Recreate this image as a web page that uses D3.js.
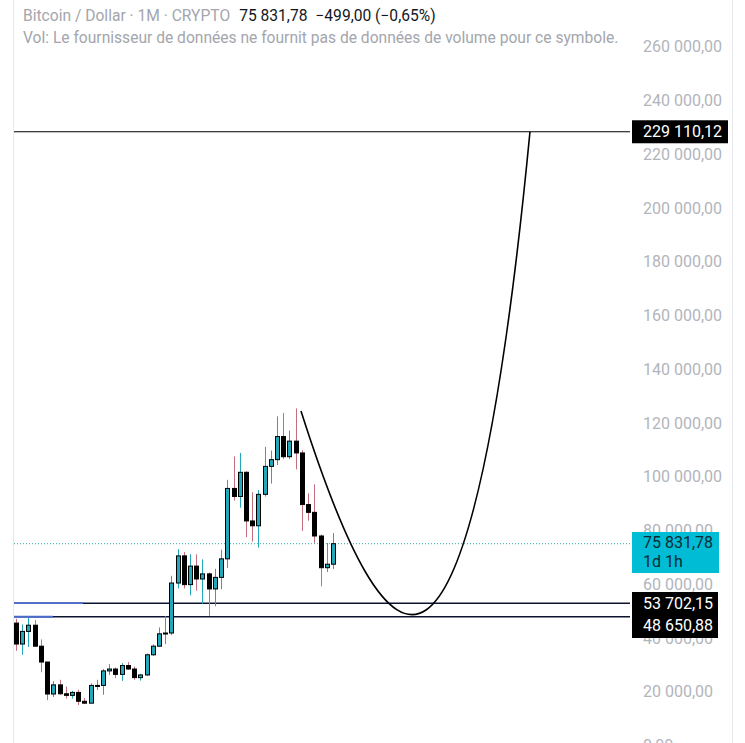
<!DOCTYPE html>
<html><head><meta charset="utf-8">
<script src="https://cdn.jsdelivr.net/npm/d3@7"></script>
<style>html,body{margin:0;padding:0;background:#fff;overflow:hidden}svg{display:block;font-family:Roboto,"Noto Sans",sans-serif}</style>
</head><body>
<svg id="c" width="745" height="743"></svg>
<script>
// ---- data ----
const months = ["2022-01","2022-02","2022-03","2022-04","2022-05","2022-06","2022-07","2022-08","2022-09","2022-10","2022-11","2022-12",
"2023-01","2023-02","2023-03","2023-04","2023-05","2023-06","2023-07","2023-08","2023-09","2023-10","2023-11","2023-12",
"2024-01","2024-02","2024-03","2024-04","2024-05","2024-06","2024-07","2024-08","2024-09","2024-10","2024-11","2024-12",
"2025-01","2025-02","2025-03","2025-04","2025-05","2025-06","2025-07","2025-08","2025-09","2025-10","2025-11","2025-12",
"2026-01","2026-02","2026-03","2026-04"];
const opens  = [46300,38500,43200,45500,37700,31800,19900,23300,20000,19400,20500,17200,16500,23100,23100,28500,29200,27200,30500,29200,26000,27000,34500,37700,42300,42600,61200,71300,60600,67500,62700,64600,59000,63300,70200,96400,93400,102400,84300,82500,94200,104600,107100,115700,108200,114000,109600,90400,87500,78700,66900,68200];
const highs  = [47900,45800,48200,47400,40200,31900,24700,25200,22700,21100,21500,18400,23900,25200,29200,31000,29800,31400,31800,30100,27400,35000,38400,44700,48900,63900,73800,72700,71900,71900,70000,65100,66500,73600,99600,108300,109600,102800,95000,95800,111900,110500,123200,124500,117900,126200,110600,94600,97900,79300,76100,79800];
const lows   = [36000,34500,37400,37500,28000,17600,18800,19600,18200,18200,15800,16300,16500,21400,19600,27000,25800,24800,28900,25200,24900,26600,34100,37600,38500,41900,59200,59200,56600,58400,53500,49000,52600,58900,66800,91900,89200,78200,76600,74400,93400,98200,105100,107300,107300,103500,80600,84400,76100,60000,65300,66400];
const closes = [38500,43200,45500,37700,31800,19900,23300,20000,19400,20500,17200,16500,23100,23100,28500,29200,27200,30500,29200,26000,27000,34500,37700,42300,42600,61200,71300,60600,67500,62700,64600,59000,63300,70200,96400,93400,102400,84300,82500,94200,104600,107100,115700,108200,114000,109600,90400,87500,78700,66900,68200,75831.78];
// drawn projection curve: cubic Bezier anchors (month index, price): start, control 1, control 2, end
const curveIdx = [45.85, 60.17, 73.04, 82.69];
const curveVal = [125200, 21400, -2800, 229110.12];
// horizontal levels
const levelVals = [229110.12, 53702.15, 48650.88];
const lastPrice = 75831.78;
const yTicks = [0,20000,40000,60000,80000,100000,120000,140000,160000,180000,200000,220000,240000,260000];

// ---- scales ----
const svg = d3.select("#c");
const x = d3.scaleLinear().domain([0, 51]).range([16, 333]);
const y = d3.scaleLinear().domain([0, 260000]).range([747.5, 48.75]);
const loc = d3.formatLocale({decimal:",", thousands:" ", grouping:[3], currency:["",""]});
const fmt = loc.format(",.2f");

// frame lines
svg.append("line").attr("x1",13.5).attr("x2",13.5).attr("y1",0).attr("y2",743).attr("stroke","#e6e8ee").attr("stroke-width",1);
svg.append("line").attr("x1",732.5).attr("x2",732.5).attr("y1",0).attr("y2",743).attr("stroke","#e6e8ee").attr("stroke-width",1);

// y axis labels (left-aligned like the price scale)
const ax = svg.append("g").attr("transform","translate(643,-2)")
  .call(d3.axisRight(y).tickValues(yTicks).tickSize(0).tickPadding(0).tickFormat(fmt));
ax.select(".domain").remove();
ax.selectAll("text").attr("fill","#b2b5bc").attr("font-size",16).attr("font-family","Roboto");

// header
const h = svg.append("text").attr("x",23).attr("y",21).attr("font-size",15.6);
h.append("tspan").attr("fill","#a3a6ad").text("Bitcoin / Dollar · 1M · CRYPTO");
h.append("tspan").attr("fill","#131722").attr("dx",9).text("75 831,78");
h.append("tspan").attr("fill","#131722").attr("dx",8).text("−499,00 (−0,65%)");
svg.append("text").attr("x",23).attr("y",43).attr("font-size",15.6).attr("fill","#a3a6ad")
  .text("Vol: Le fournisseur de données ne fournit pas de données de volume pour ce symbole.");

// current price dotted line
svg.append("line").attr("x1",14).attr("x2",630).attr("y1",y(lastPrice)).attr("y2",y(lastPrice))
  .attr("stroke","#2aa8a0").attr("stroke-width",1).attr("stroke-dasharray","1,2");

// level lines
const lv = svg.append("g");
lv.append("line").attr("x1",14).attr("x2",630).attr("y1",y(levelVals[0])).attr("y2",y(levelVals[0])).attr("stroke","#000").attr("stroke-width",1.2);
lv.append("line").attr("x1",14).attr("x2",630).attr("y1",y(levelVals[1])).attr("y2",y(levelVals[1])).attr("stroke","#0c1430").attr("stroke-width",1.6);
lv.append("line").attr("x1",14).attr("x2",630).attr("y1",y(levelVals[2])).attr("y2",y(levelVals[2])).attr("stroke","#0c1430").attr("stroke-width",1.6);
lv.append("line").attr("x1",14).attr("x2",83).attr("y1",y(levelVals[1])).attr("y2",y(levelVals[1])).attr("stroke","#4a6ccc").attr("stroke-width",1.8);
lv.append("line").attr("x1",14).attr("x2",53).attr("y1",y(levelVals[2])).attr("y2",y(levelVals[2])).attr("stroke","#4a6ccc").attr("stroke-width",1.8);

// candles
const data = months.map((m,i)=>({i, o:opens[i], h:highs[i], l:lows[i], c:closes[i]}));
const cg = svg.append("g");
const up = "#23a7ba";
cg.selectAll("line.w").data(data).join("line").attr("class","w")
  .attr("x1",d=>Math.round(x(d.i))+0.5).attr("x2",d=>Math.round(x(d.i))+0.5)
  .attr("y1",d=>y(d.h)).attr("y2",d=>y(d.l))
  .attr("stroke",d=>d.c>=d.o?up:"#c46f7d").attr("stroke-width",1);
cg.selectAll("rect.b").data(data).join("rect").attr("class","b")
  .attr("x",d=>Math.round(x(d.i))-1.5).attr("width",4)
  .attr("y",d=>Math.min(y(d.o),y(d.c))).attr("height",d=>Math.max(1,Math.abs(y(d.o)-y(d.c))))
  .attr("fill",d=>d.c>=d.o?up:"#000").attr("stroke","#000").attr("stroke-width",1);

// curve
const p = d3.path();
p.moveTo(x(curveIdx[0]), y(curveVal[0]));
p.bezierCurveTo(x(curveIdx[1]), y(curveVal[1]), x(curveIdx[2]), y(curveVal[2]), x(curveIdx[3]), y(curveVal[3]));
svg.append("path").attr("d",p.toString()).attr("fill","none").attr("stroke","#000").attr("stroke-width",1.6);

// price labels
svg.append("rect").attr("x",632).attr("y",y(levelVals[0])-11.5).attr("width",96).attr("height",23).attr("fill","#000");
svg.append("text").attr("x",643).attr("y",y(levelVals[0])+5.5).attr("fill","#fff").attr("font-size",16).text(fmt(levelVals[0]));
svg.append("rect").attr("x",632).attr("y",532).attr("width",87).attr("height",41).attr("fill","#00bcd4");
svg.append("text").attr("x",643).attr("y",548).attr("fill","#0c2a33").attr("font-size",16).text(fmt(lastPrice));
svg.append("text").attr("x",643).attr("y",567).attr("fill","#0c2a33").attr("font-size",16).text("1d 1h");
svg.append("rect").attr("x",632).attr("y",592).attr("width",86).attr("height",46).attr("fill","#000");
svg.append("text").attr("x",643).attr("y",609).attr("fill","#fff").attr("font-size",16).text(fmt(levelVals[1]));
svg.append("text").attr("x",643).attr("y",631).attr("fill","#fff").attr("font-size",16).text(fmt(levelVals[2]));
</script>
</body></html>
